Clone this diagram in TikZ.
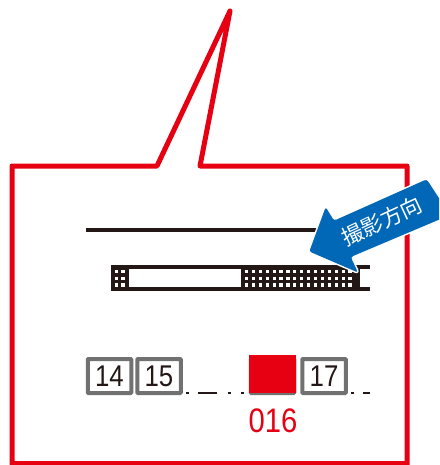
\documentclass[tikz,border=0pt]{standalone}
\usepackage{graphicx}
\usepackage{fontspec}
\setmainfont{Liberation Sans}
\newfontfamily\cjkjp{Noto Sans CJK JP}
\definecolor{myred}{HTML}{E60012}
\definecolor{myblue}{HTML}{0068B7}
\definecolor{myblack}{HTML}{231815}
\definecolor{mygray}{HTML}{727171}
\newcommand{\pnum}[1]{\scalebox{.86}[1]{#1}}
\tikzset{
  x=1pt,y=-1pt,
  numbox/.style={draw=mygray,line width=4pt,fill=white,rounded corners=.8pt,minimum width=43.5pt,minimum height=34pt,inner sep=0pt,font=\fontsize{30}{30}\selectfont,text=myblack,anchor=center},
  dotmark/.style={fill=myblack},
  railline/.style={draw=myblack,line width=3.6pt}
}
\begin{document}
\begin{tikzpicture}
\useasboundingbox (0,0) rectangle (439,465);
\clip (0,0) rectangle (439,465);
% callout
\draw[myred,line width=5pt,line join=round]
  (12,465) -- (12,166) -- (157,166) -- (230,11) -- (200,166) -- (407,166) -- (407,465);
\draw[myred,line width=5pt] (12,463.5) -- (407,463.5);
% black line
\draw[myblack,line width=3.8pt] (86,230) -- (320,230);
% rail
\fill[myblack] (111,265) rectangle (126.5,291);
\fill[myblack] (241,265) rectangle (358,291);
\draw[railline] (111,266.8) -- (370,266.8);
\draw[railline] (111,289.2) -- (370,289.2);
\draw[myblack,line width=2.5pt] (127.5,265) -- (127.5,291);
\draw[myblack,line width=2.5pt] (358.5,265) -- (358.5,291);
\foreach \x in {116.5,123} \foreach \y in {271.7,278.3,285} \fill[white] (\x-1.6,\y-1.6) rectangle ++(3.2,3.2);
\foreach \i in {0,...,15} \foreach \y in {271.7,278.3,285} \fill[white] ({246.5+\i*6.9-1.6},\y-1.6) rectangle ++(3.2,3.2);
% number row
\node[numbox] (n14) at (109.5,376) {\pnum{14}};
\node[numbox] (n15) at (159,376) {\pnum{15}};
\node[numbox] (n16) at (272.5,376) {};
\node[numbox] (n17) at (324,376) {\pnum{17}};
\fill[myred] (249,355) rectangle (296,392.5);
\node[text=myred,font=\fontsize{34}{34}\selectfont,inner sep=0pt] (lab) at (273,421) {\pnum{016}};
% dots
\fill[dotmark] (186,391.5) rectangle (188.5,394);
\fill[dotmark] (198,391.5) rectangle (217,394);
\fill[dotmark] (228,391.5) rectangle (230.5,394);
\fill[dotmark] (241,391.5) rectangle (243.5,394);
\fill[dotmark] (351,391.5) rectangle (353.5,394);
\fill[dotmark] (363,391.5) rectangle (370,394);
% arrow
\draw[white,line width=3pt,fill=white,rounded corners=2.5pt,line join=round]
  (325.7,207) -- (309.3,251.5) -- (358,272.5) -- (350.7,257) -- (450,215) -- (426.7,179.3) -- (334,220.7) -- cycle;
\fill[myblue,rounded corners=2.5pt]
  (325.7,207) -- (309.3,251.5) -- (358,272.5) -- (350.7,257) -- (450,215) -- (426.7,179.3) -- (334,220.7) -- cycle;
\node[text=white,rotate=25,font=\cjkjp\fontsize{21.5}{21.5}\selectfont,inner sep=0pt] (lbl) at (382,221) {撮影方向};
\end{tikzpicture}
\end{document}
